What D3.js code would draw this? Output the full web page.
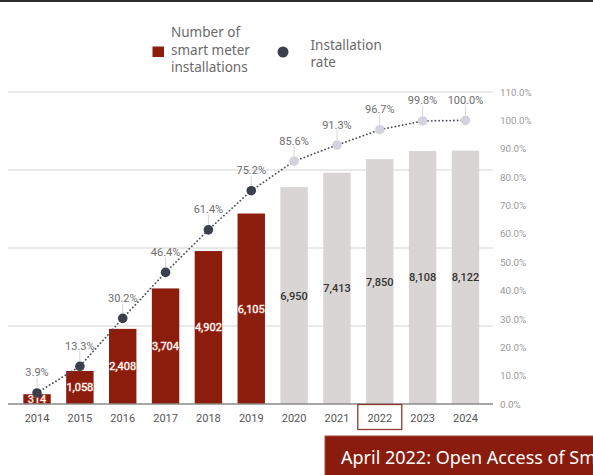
<!DOCTYPE html>
<html>
<head>
<meta charset="utf-8">
<script src="https://cdn.jsdelivr.net/npm/d3@7"></script>
<style>
  html, body { margin: 0; padding: 0; background: #fff; }
  svg { display: block; }
</style>
</head>
<body>
<svg id="chart" width="593" height="475"></svg>
<script>
// Smart meter rollout: yearly installations (bars) and cumulative installation rate (dots)
const years = ["2014", "2015", "2016", "2017", "2018", "2019", "2020", "2021", "2022", "2023", "2024"];
const installations = [314, 1058, 2408, 3704, 4902, 6105, 6950, 7413, 7850, 8108, 8122];
const rates = [3.9, 13.3, 30.2, 46.4, 61.4, 75.2, 85.6, 91.3, 96.7, 99.8, 100.0];
const lastActualYear = "2019";
const countTicks = [0, 2500, 5000, 7500, 10000];
const rateTicks = [0, 10, 20, 30, 40, 50, 60, 70, 80, 90, 100, 110];
const legendLabels = [["Number of", "smart meter", "installations"], ["Installation", "rate"]];
const highlightYear = "2022";
const bannerText = "April 2022: Open Access of Smart Meter Data";

const C = {
  actualBar: "#8c1d0d",
  planBar: "#d9d5d5",
  actualDot: "#3b404c",
  planDot: "#d3d3dd",
  grid: "#e2e2e2",
  base: "#8a8a8a",
  text: "#6e6e6e"
};

const svg = d3.select("#chart");
const W = 593;
const plotTop = 92, plotBottom = 404, gridLeft = 8, gridRight = 493;

const x = d3.scaleBand().domain(years).range([15.6, 486.9]).paddingInner(0.36).paddingOuter(0.18);
const yCount = d3.scaleLinear().domain([0, 10000]).range([plotBottom, plotTop]);
const yRate = d3.scaleLinear().domain([0, 110]).range([plotBottom, plotTop]);

const isActual = (yr) => +yr <= +lastActualYear;

// top rule
svg.append("line").attr("x1", 0).attr("x2", W).attr("y1", 1).attr("y2", 1)
  .attr("stroke", "#2e2e2e").attr("stroke-width", 2);

// gridlines from the count axis
svg.append("g").selectAll("line").data(countTicks.filter(d => d > 0)).join("line")
  .attr("x1", gridLeft).attr("x2", gridRight)
  .attr("y1", d => yCount(d)).attr("y2", d => yCount(d))
  .attr("stroke", C.grid).attr("stroke-width", 1.5);

// bars
const data = years.map((yr, i) => ({ yr, n: installations[i], r: rates[i] }));
svg.append("g").selectAll("rect").data(data).join("rect")
  .attr("x", d => x(d.yr)).attr("width", x.bandwidth())
  .attr("y", d => yCount(d.n)).attr("height", d => yCount(0) - yCount(d.n))
  .attr("fill", d => isActual(d.yr) ? C.actualBar : C.planBar);

// baseline
svg.append("line").attr("x1", gridLeft).attr("x2", gridRight)
  .attr("y1", yCount(0)).attr("y2", yCount(0))
  .attr("stroke", C.base).attr("stroke-width", 1.5);

// bar value labels at bar mid-height
svg.append("g").selectAll("text").data(data).join("text")
  .attr("x", d => x(d.yr) + x.bandwidth() / 2)
  .attr("y", d => (yCount(d.n) + yCount(0)) / 2)
  .attr("dy", "0.36em")
  .attr("text-anchor", "middle")
  .attr("font-family", "Roboto, 'Liberation Sans', sans-serif")
  .attr("font-size", 11)
  .attr("font-weight", d => isActual(d.yr) ? 400 : 500)
  .attr("fill", d => isActual(d.yr) ? "#fff" : "#333")
  .attr("stroke", d => isActual(d.yr) ? "#d98074" : "none")
  .attr("stroke-width", 0.9)
  .attr("paint-order", "stroke")
  .text(d => d3.format(",")(d.n));

// rate line
const cx = d => x(d.yr) + x.bandwidth() / 2;
svg.append("path").datum(data)
  .attr("d", d3.line().x(cx).y(d => yRate(d.r)))
  .attr("fill", "none").attr("stroke", "#4a4f5a").attr("stroke-width", 1.8)
  .attr("stroke-linecap", "round").attr("stroke-dasharray", "0.1 3.6");

// leader lines from labels to dots
svg.append("g").selectAll("line").data(data).join("line")
  .attr("x1", cx).attr("x2", cx)
  .attr("y1", d => yRate(d.r) - 15).attr("y2", d => yRate(d.r) - 5)
  .attr("stroke", "#d6d6d6").attr("stroke-width", 1);

// rate dots
svg.append("g").selectAll("circle").data(data).join("circle")
  .attr("cx", cx).attr("cy", d => yRate(d.r)).attr("r", 4.8)
  .attr("fill", d => isActual(d.yr) ? C.actualDot : C.planDot);

// rate labels
svg.append("g").selectAll("text").data(data).join("text")
  .attr("x", cx).attr("y", d => yRate(d.r) - 16.5)
  .attr("text-anchor", "middle")
  .attr("font-family", "Roboto, 'Liberation Sans', sans-serif")
  .attr("font-size", 11).attr("fill", C.text)
  .text(d => d.r.toFixed(1) + "%");

// year axis
const xAxis = svg.append("g").attr("transform", `translate(0,${plotBottom})`)
  .call(d3.axisBottom(x).tickSize(0).tickPadding(10));
xAxis.select(".domain").remove();
xAxis.selectAll("text")
  .attr("font-family", "Roboto, 'Liberation Sans', sans-serif")
  .attr("font-size", 11).attr("fill", "#555");

// highlight box around a year label
svg.append("rect")
  .attr("x", x(highlightYear) + x.bandwidth() / 2 - 22).attr("y", plotBottom + 0.5)
  .attr("width", 44).attr("height", 25)
  .attr("fill", "none").attr("stroke", "#8e3a2e").attr("stroke-width", 1.3);

// rate axis on the right
const yAxisR = svg.append("g").attr("transform", `translate(${gridRight + 7},0)`)
  .call(d3.axisRight(yRate).tickValues(rateTicks).tickSize(0).tickPadding(0)
    .tickFormat(d => d.toFixed(1) + "%"));
yAxisR.select(".domain").remove();
yAxisR.selectAll("text")
  .attr("font-family", "Roboto, 'Liberation Sans', sans-serif")
  .attr("font-size", 9.8).attr("fill", "#999");

// legend
const lg = svg.append("g").attr("font-family", "'Noto Sans', 'Open Sans', sans-serif")
  .attr("font-size", 13.5).attr("fill", "#6a6a6a");
lg.append("rect").attr("x", 152.5).attr("y", 46.5).attr("width", 11.5).attr("height", 10.5)
  .attr("fill", C.actualBar);
legendLabels[0].forEach((t, i) => lg.append("text").attr("x", 171).attr("y", 37 + i * 17.5).text(t));
lg.append("circle").attr("cx", 283).attr("cy", 52).attr("r", 5.5).attr("fill", C.actualDot);
legendLabels[1].forEach((t, i) => lg.append("text").attr("x", 310.5).attr("y", 50 + i * 17).text(t));

// announcement banner, running off the right edge
const clip = svg.append("defs").append("clipPath").attr("id", "page");
clip.append("rect").attr("width", W).attr("height", 475);
const banner = svg.append("g").attr("clip-path", "url(#page)");
banner.append("rect").attr("x", 325).attr("y", 436).attr("width", 300).attr("height", 60)
  .attr("fill", "#8a1c0d").attr("stroke", "#a8463a").attr("stroke-width", 1);
banner.append("text").attr("x", 341).attr("y", 464)
  .attr("font-family", "'Noto Sans', 'Open Sans', sans-serif")
  .attr("font-size", 18).attr("fill", "#fff")
  .text(bannerText);
</script>
</body>
</html>
